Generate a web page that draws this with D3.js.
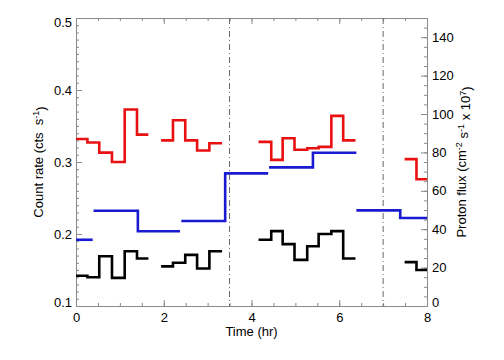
<!DOCTYPE html>
<html>
<head>
<meta charset="utf-8">
<script src="https://cdn.jsdelivr.net/npm/d3@7"></script>
<style>
  body { margin: 0; background: #fff; }
  text { font-family: "Liberation Sans", Arial, sans-serif; }
</style>
</head>
<body>
<div id="chart"></div>
<script>
// bin edges (hr) of the count-rate light curves, one array per data chunk
var countBins = [
  [0, 0.26, 0.53, 0.82, 1.11, 1.39, 1.65],
  [1.94, 2.21, 2.49, 2.76, 3.04, 3.33],
  [4.16, 4.45, 4.71, 4.98, 5.27, 5.53, 5.82, 6.09, 6.37],
  [7.49, 7.76, 8.0]
];
// red curve (cts/s)
var redRate = [
  [0.332, 0.327, 0.313, 0.300, 0.373, 0.338],
  [0.330, 0.358, 0.330, 0.316, 0.326],
  [0.328, 0.303, 0.333, 0.317, 0.319, 0.321, 0.364, 0.330],
  [0.304, 0.276]
];
// black curve (cts/s)
var blackRate = [
  [0.142, 0.140, 0.169, 0.139, 0.176, 0.166],
  [0.155, 0.160, 0.171, 0.152, 0.176],
  [0.192, 0.204, 0.186, 0.164, 0.183, 0.200, 0.204, 0.166],
  [0.161, 0.150]
];
// proton flux bins and values (x 10^7 cm-2 s-1)
var fluxBins = [
  [0, 0.38],
  [0.40, 1.41, 2.37],
  [2.40, 3.40, 4.38],
  [4.40, 5.40, 6.39],
  [6.39, 7.39, 8.0]
];
var protonFlux = [
  [34.5],
  [49.6, 38.9],
  [44.3, 69.1],
  [72.2, 79.8],
  [49.8, 45.8]
];
var boundaries = [3.5, 7];

var xTicks = [0, 2, 4, 6, 8];
var yTicks = [0.1, 0.2, 0.3, 0.4, 0.5];
var y2Ticks = [0, 20, 40, 60, 80, 100, 120, 140];

var margin = {top: 18, right: 77, bottom: 54, left: 76},
    width = 504 - margin.left - margin.right,
    height = 360 - margin.top - margin.bottom;

var svg = d3.select("#chart")
  .append("svg")
    .attr("width", 504)
    .attr("height", 360)
  .append("g")
    .attr("transform", "translate(" + margin.left + "," + margin.top + ")");

var x = d3.scaleLinear().domain([0, 8]).range([0, width]);
var y = d3.scaleLinear().domain([0.1, 0.5]).range([height, 0]);
var y2 = d3.scaleLinear().domain([0, 150]).range([height, 0]);

var axisColor = "#8a8a8a";

// minor ticks
svg.append("g").attr("class", "minor")
  .attr("transform", "translate(0," + height + ")")
  .call(d3.axisBottom(x).tickValues(d3.range(0, 8.01, 0.5)).tickSize(-3).tickFormat(""));
svg.append("g").attr("class", "minor")
  .call(d3.axisTop(x).tickValues(d3.range(0, 8.01, 0.5)).tickSize(-3).tickFormat(""));
svg.append("g").attr("class", "minor")
  .call(d3.axisLeft(y).tickValues(d3.range(0.1, 0.5001, 0.01)).tickSize(-3).tickFormat(""));
svg.append("g").attr("class", "minor")
  .attr("transform", "translate(" + width + ",0)")
  .call(d3.axisRight(y2).tickValues(d3.range(0, 150.1, 5)).tickSize(-3).tickFormat(""));

// major axes
var xAxis = svg.append("g")
  .attr("transform", "translate(0," + height + ")")
  .call(d3.axisBottom(x).tickValues(xTicks).tickSize(-6).tickSizeOuter(0).tickPadding(7).tickFormat(d3.format("d")));
svg.append("g")
  .call(d3.axisTop(x).tickValues(xTicks).tickSize(-6).tickSizeOuter(0).tickFormat(""));
var yAxis = svg.append("g")
  .call(d3.axisLeft(y).tickValues(yTicks).tickSize(-6).tickSizeOuter(0).tickPadding(4).tickFormat(d3.format(".1f")));
var y2Axis = svg.append("g")
  .attr("transform", "translate(" + width + ",0)")
  .call(d3.axisRight(y2).tickValues(y2Ticks).tickSize(-6).tickSizeOuter(0).tickPadding(5).tickFormat(d3.format("d")));

svg.selectAll(".domain").attr("stroke", axisColor);
svg.selectAll(".tick line").attr("stroke", axisColor);
svg.selectAll(".tick text").attr("fill", "#000").style("font-size", "13px");

// end labels sit a little inside the box
yAxis.selectAll(".tick text").attr("dy", function(d) {
  return d == 0.5 ? "0.62em" : d == 0.1 ? "0.02em" : "0.32em";
});
y2Axis.selectAll(".tick text").attr("dy", function(d) {
  return d == 0 ? "0.02em" : "0.32em";
});

// axis titles
svg.append("text")
  .attr("x", width / 2)
  .attr("y", height + 30)
  .attr("text-anchor", "middle")
  .style("font-size", "13px")
  .text("Time (hr)");

var yTitle = svg.append("text")
  .attr("transform", "translate(" + (-33) + "," + (height / 2) + ")rotate(-90)")
  .attr("text-anchor", "middle")
  .style("font-size", "13px");
yTitle.append("tspan").text("Count rate (cts \u00a0s");
yTitle.append("tspan").attr("dy", "-0.45em").style("font-size", "9px").text("-1");
yTitle.append("tspan").attr("dy", "0.45em").text(")");

var y2Title = svg.append("text")
  .attr("transform", "translate(" + (width + 39) + "," + (height / 2) + ")rotate(-90)")
  .attr("text-anchor", "middle")
  .style("font-size", "13px");
y2Title.append("tspan").text("Proton flux (cm");
y2Title.append("tspan").attr("dy", "-0.45em").style("font-size", "9px").text("-2");
y2Title.append("tspan").attr("dy", "0.45em").text(" s");
y2Title.append("tspan").attr("dy", "-0.45em").style("font-size", "9px").text("-1");
y2Title.append("tspan").attr("dy", "0.45em").text(" x 10");
y2Title.append("tspan").attr("dy", "-0.45em").style("font-size", "9px").text("7");
y2Title.append("tspan").attr("dy", "0.45em").text(")");

// dash-dot boundaries
svg.selectAll(".bound")
  .data(boundaries)
  .enter()
  .append("line")
    .attr("x1", function(d) { return x(d); })
    .attr("x2", function(d) { return x(d); })
    .attr("y1", 0)
    .attr("y2", height)
    .attr("stroke", "#666")
    .attr("stroke-width", 1)
    .attr("stroke-dasharray", "6,3,1,3");

// turn bin edges + values into step points
function steps(edges, vals) {
  var pts = vals.map(function(v, i) { return [edges[i], v]; });
  pts.push([edges[edges.length - 1], vals[vals.length - 1]]);
  return pts;
}

function drawSeries(binsList, valsList, yScale, color) {
  var line = d3.line()
    .x(function(d) { return x(d[0]); })
    .y(function(d) { return yScale(d[1]); })
    .curve(d3.curveStepAfter);
  svg.selectAll(null)
    .data(valsList.map(function(v, i) { return steps(binsList[i], v); }))
    .enter()
    .append("path")
      .attr("d", line)
      .attr("fill", "none")
      .attr("stroke", color)
      .attr("stroke-width", 2.6);
}

drawSeries(countBins, redRate, y, "#e81010");
drawSeries(fluxBins, protonFlux, y2, "#1a1ad0");
drawSeries(countBins, blackRate, y, "#000");
</script>
</body>
</html>
